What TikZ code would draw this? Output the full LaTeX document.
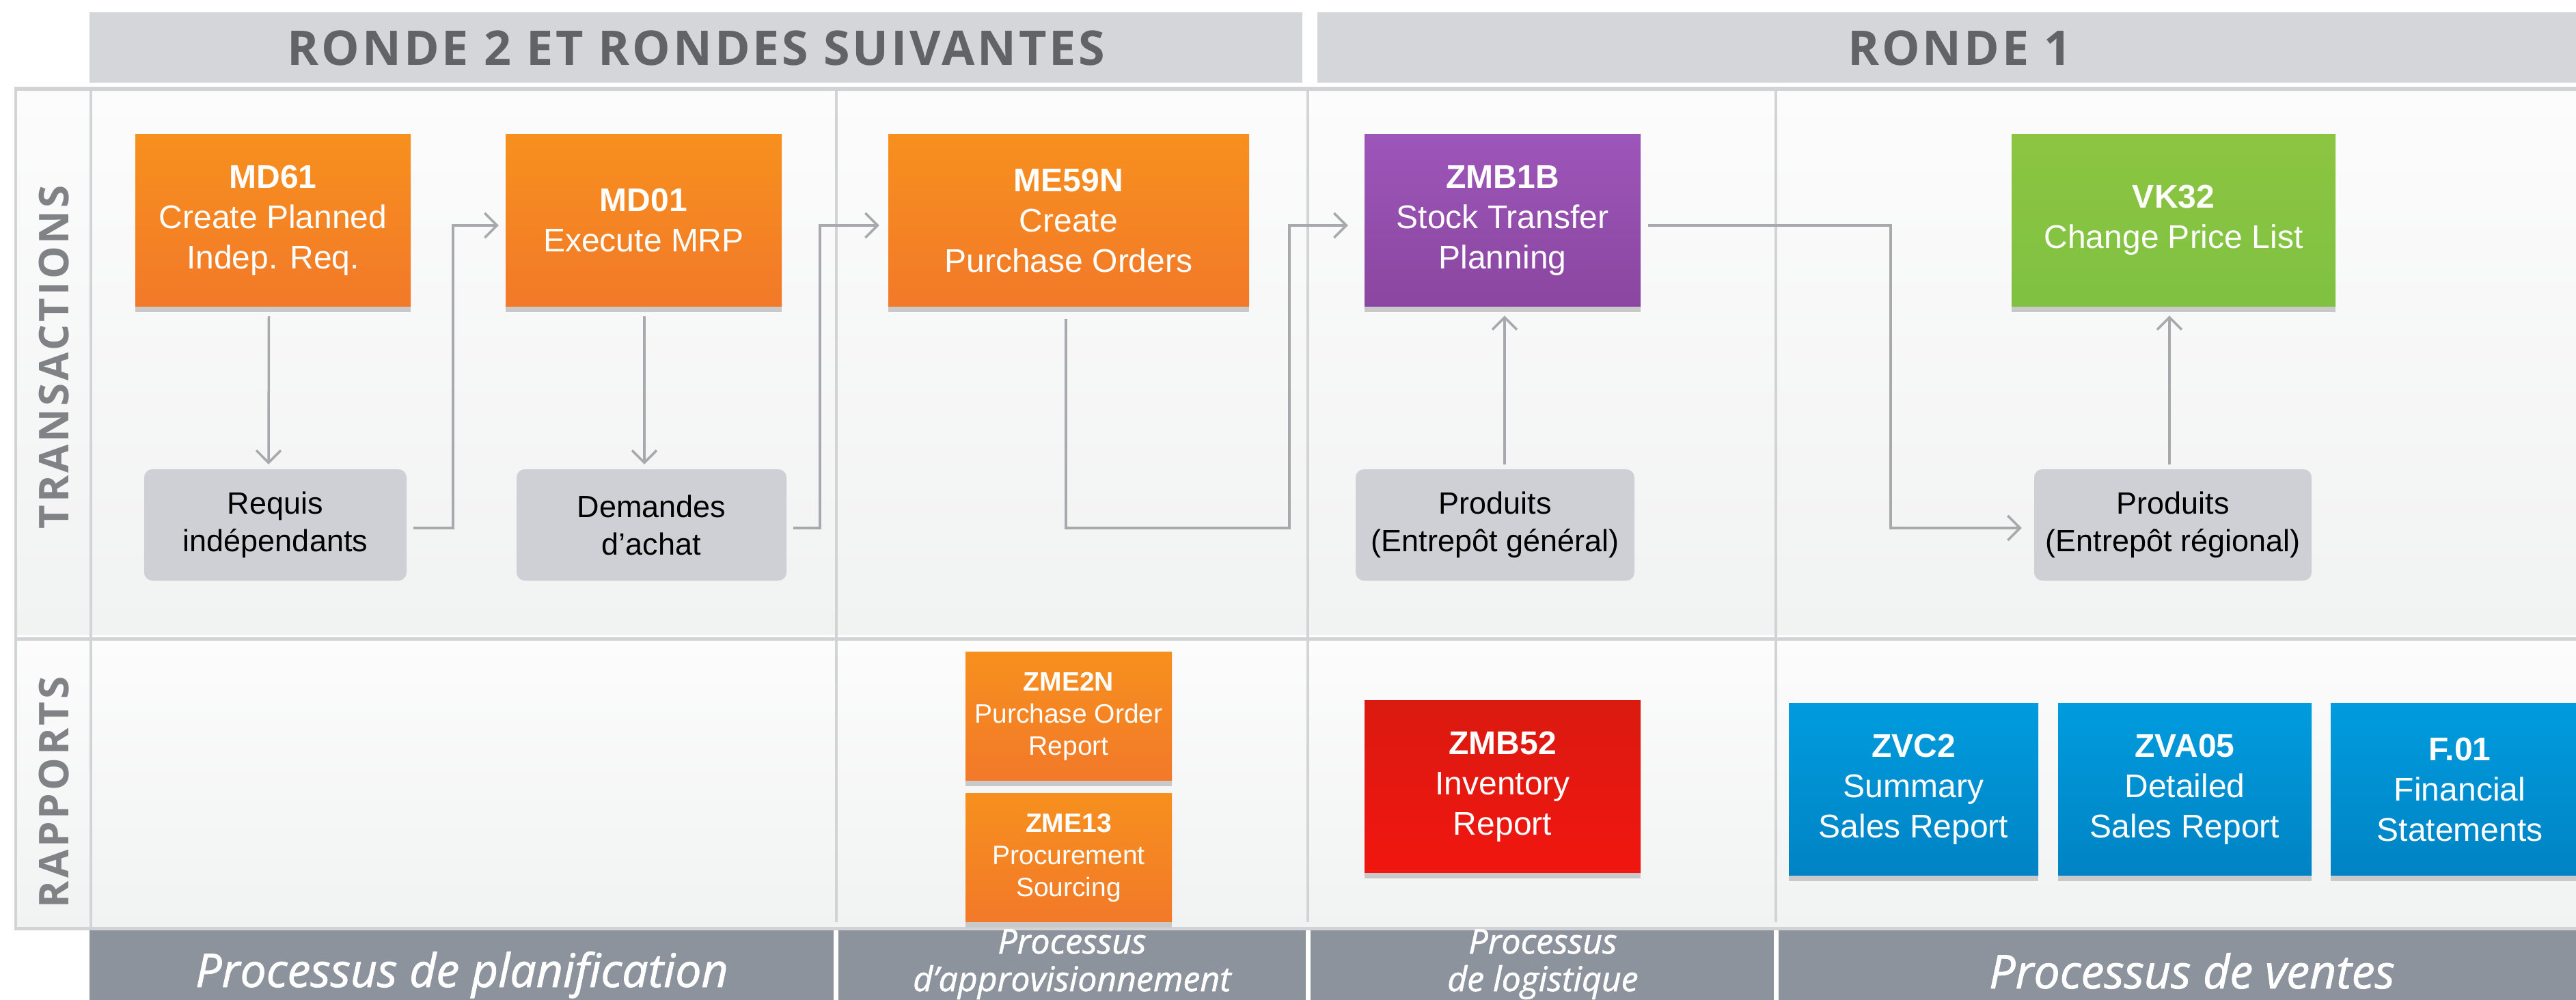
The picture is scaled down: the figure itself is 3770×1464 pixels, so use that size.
\documentclass[tikz,border=0pt]{standalone}
\usepackage{fontspec}
\setmainfont{Liberation Sans}
\newfontfamily\hdrfont[LetterSpace=5.5]{Open Sans}
\newfontfamily\lblfont[LetterSpace=6.5]{Open Sans}
\newfontfamily\procfont[FakeBold=1.2]{Open Sans}
\usetikzlibrary{arrows.meta}
\definecolor{hdrbg}{HTML}{D5D6D9}
\definecolor{hdrtx}{HTML}{626366}
\definecolor{gridln}{HTML}{D1D3D4}
\definecolor{cellA}{HTML}{FCFCFC}
\definecolor{cellB}{HTML}{F1F2F2}
\definecolor{lbltx}{HTML}{808285}
\definecolor{orA}{HTML}{F7901E}
\definecolor{orB}{HTML}{F27929}
\definecolor{puA}{HTML}{9D56B9}
\definecolor{puB}{HTML}{8A46A0}
\definecolor{grA}{HTML}{8CC541}
\definecolor{grB}{HTML}{80C142}
\definecolor{reA}{HTML}{DA1A10}
\definecolor{reB}{HTML}{F11610}
\definecolor{blA}{HTML}{009CDE}
\definecolor{blB}{HTML}{0083C4}
\definecolor{gboxc}{HTML}{CFD0D5}
\definecolor{shad}{HTML}{C9C9CA}
\definecolor{connc}{HTML}{A7A9AC}
\definecolor{botbar}{HTML}{8D939C}
\tikzset{
  tbox/.style={rectangle, inner sep=0pt, text=white, align=center,
    font=\fontsize{48}{59}\selectfont},
  orbox/.style={tbox, top color=orA, bottom color=orB},
  pubox/.style={tbox, top color=puA, bottom color=puB},
  grbox/.style={tbox, top color=grA, bottom color=grB},
  rebox/.style={tbox, top color=reA, bottom color=reB},
  blbox/.style={tbox, top color=blA, bottom color=blB},
  bigsz/.style={minimum width=404pt, minimum height=253pt},
  gybox/.style={rectangle, rounded corners=12pt, fill=gboxc, inner sep=0pt,
    text=black, align=center, minimum height=163pt,
    font=\fontsize{45}{55}\selectfont},
  connline/.style={draw=connc, line width=3.5pt, line join=miter},
  arrc/.style={connline, -{Straight Barb[length=18pt,width=36pt,line width=3.5pt]}},
  hdr/.style={text=hdrtx, inner sep=0pt, font=\hdrfont\bfseries\fontsize{70}{80}\selectfont},
  lbl/.style={text=lbltx, inner sep=0pt, rotate=90, font=\lblfont\bfseries\fontsize{60}{70}\selectfont},
  procA/.style={text=white, inner sep=0pt, anchor=base, font=\procfont\itshape\fontsize{68}{78}\selectfont},
  procB/.style={text=white, inner sep=0pt, anchor=base, font=\procfont\itshape\fontsize{50}{58}\selectfont}
}
\begin{document}
\begin{tikzpicture}[x=1pt,y=-1pt]
\useasboundingbox (0,0) rectangle (3770,1464);
\fill[white] (0,0) rectangle (3770,1464);
% header bars
\fill[hdrbg] (131,18) rectangle (1906,121);
\fill[hdrbg] (1928,18) rectangle (3770,121);
\node[hdr] (h1) at (1019,70) {RONDE 2 ET RONDES SUIVANTES};
\node[hdr] (h2) at (2868,70) {RONDE 1};
% grid backgrounds
\shade[top color=cellA, bottom color=cellB] (21,129) rectangle (3770,933);
\shade[top color=cellA, bottom color=cellB] (21,938) rectangle (3770,1360);
\fill[gridln] (21,127) rectangle (3770,133);
\fill[white] (21,930) rectangle (3770,933);
\fill[gridln] (21,933) rectangle (3770,938);
\fill[gridln] (21,1357) rectangle (3770,1362);
\fill[gridln] (21,129) rectangle (25,1362);
\fill[gridln] (131,129) rectangle (135,1362);
\fill[gridln] (1222,133) rectangle (1226,1350);
\fill[gridln] (1912,133) rectangle (1916,1350);
\fill[gridln] (2597,133) rectangle (2601,1350);
% row labels
\node[lbl] (tlbl) at (79,523) {TRANSACTIONS};
\node[lbl] (rlbl) at (79,1160) {RAPPORTS};
% bottom bars
\fill[botbar] (131,1362) rectangle (1220,1464);
\fill[botbar] (1227,1362) rectangle (1911,1464);
\fill[botbar] (1918,1362) rectangle (2596,1464);
\fill[botbar] (2603,1362) rectangle (3770,1464);
\node[procA] (p1) at (676,1445) {Processus de planification};
\node[procB] (p2a) at (1569,1396) {Processus};
\node[procB] (p2b) at (1569,1451) {d’approvisionnement};
\node[procB] (p3a) at (2258,1396) {Processus};
\node[procB] (p3b) at (2258,1451) {de logistique};
\node[procA] (p4) at (3208,1447) {Processus de ventes};
% transaction boxes
\node[orbox, bigsz, minimum width=403pt] (md61) at (399.5,322.5) {\textbf{MD61}\\Create Planned\\Indep. Req.};
\node[orbox, bigsz] (md01) at (942,322.5) {\textbf{MD01}\\Execute MRP};
\node[orbox, bigsz, minimum width=528pt] (me59n) at (1564,322.5) {\textbf{ME59N}\\Create\\Purchase Orders};
\node[pubox, bigsz] (zmb1b) at (2199,322.5) {\textbf{ZMB1B}\\Stock Transfer\\Planning};
\node[grbox, bigsz, minimum width=474pt] (vk32) at (3181,322.5) {\textbf{VK32}\\Change Price List};
% gray boxes
\node[gybox, minimum width=384pt] (req) at (403,768.5) {Requis\\indépendants};
\node[gybox, minimum width=395pt] (dem) at (953.5,768.5) {Demandes\\d’achat};
\node[gybox, minimum width=408pt] (pg) at (2188,768.5) {Produits\\(Entrepôt général)};
\node[gybox, minimum width=406pt] (pr) at (3180,768.5) {Produits\\(Entrepôt régional)};
% report boxes
\node[orbox, minimum width=302pt, minimum height=189pt, font=\fontsize{39}{47}\selectfont] (zme2n) at (1564,1048.5) {\textbf{ZME2N}\\Purchase Order\\Report};
\node[orbox, minimum width=302pt, minimum height=189pt, font=\fontsize{39}{47}\selectfont] (zme13) at (1564,1255.5) {\textbf{ZME13}\\Procurement\\Sourcing};
\node[rebox, bigsz] (zmb52) at (2199,1151.5) {\textbf{ZMB52}\\Inventory\\Report};
\node[blbox, minimum width=365pt, minimum height=253pt] (zvc2) at (2800.5,1155.5) {\textbf{ZVC2}\\Summary\\Sales Report};
\node[blbox, minimum width=371pt, minimum height=253pt] (zva05) at (3197.5,1155.5) {\textbf{ZVA05}\\Detailed\\Sales Report};
\node[blbox, minimum width=378pt, minimum height=253pt] (f01) at (3600,1155.5) {\textbf{F.01}\\Financial\\Statements};
% box shadows
\foreach \n in {md61,md01,me59n,zmb1b,vk32,zme2n,zme13,zmb52,zvc2,zva05,f01}
  \fill[shad] (\n.south west) rectangle ([yshift=-8pt]\n.south east);
% junction points
\coordinate (j1) at (663,330);
\coordinate (j2) at (1200,330);
\coordinate (j3) at (1887,773);
\coordinate (j4) at (2767,773);
% connectors
\draw[arrc] ([shift={(-6,14)}]md61.south) -- ([shift={(-10,-7)}]req.north);
\draw[arrc] ([shift={(1,14)}]md01.south) -- ([shift={(-10.5,-7)}]dem.north);
\draw[arrc] ([shift={(10,4.5)}]req.east) -| (j1) -- ([shift={(-10,7.5)}]md01.west);
\draw[arrc] ([shift={(10,4.5)}]dem.east) -| (j2) -- ([shift={(-13,7.5)}]me59n.west);
\draw[arrc] ([shift={(-4,18)}]me59n.south) |- (j3) |- ([shift={(-24,7.5)}]zmb1b.west);
\draw[arrc] ([shift={(14,-7)}]pg.north) -- ([shift={(3,13)}]zmb1b.south);
\draw[arrc] ([shift={(11,7.5)}]zmb1b.east) -| (j4) -- ([shift={(-18,4.5)}]pr.west);
\draw[arrc] ([shift={(-5,-7)}]pr.north) -- ([shift={(-6,13)}]vk32.south);
\end{tikzpicture}
\end{document}
